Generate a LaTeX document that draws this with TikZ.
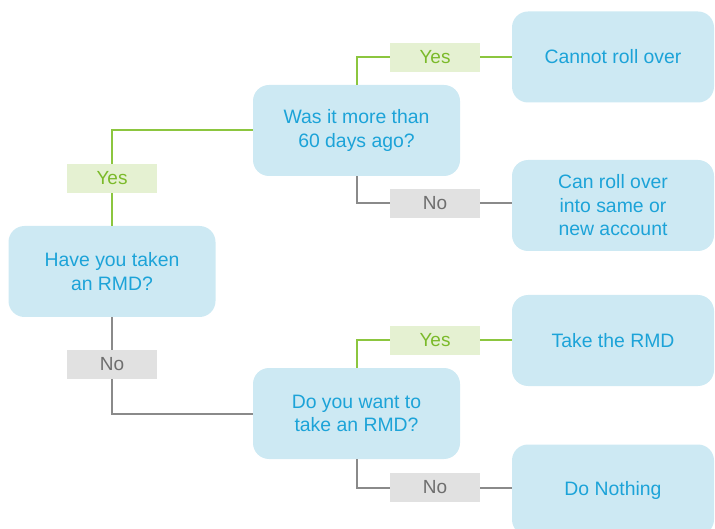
\documentclass[tikz,border=0pt]{standalone}
\usepackage{fontspec}
\setmainfont{Liberation Sans}
\definecolor{boxfill}{HTML}{CDE9F3}
\definecolor{boxtext}{HTML}{1CA3D8}
\definecolor{yesfill}{HTML}{E5F1D2}
\definecolor{yestext}{HTML}{7BBA2A}
\definecolor{yesline}{HTML}{8CC63F}
\definecolor{nofill}{HTML}{E1E1E1}
\definecolor{notext}{HTML}{6E6E6E}
\definecolor{noline}{HTML}{8A8A8A}
\tikzset{
  qbox/.style={fill=boxfill, rounded corners=16pt, minimum width=207pt, minimum height=91pt,
    align=center, text=boxtext, font=\fontsize{19.4}{23.5}\selectfont, inner sep=0pt},
  rbox/.style={qbox, minimum width=202pt},
  yeslab/.style={fill=yesfill, text=yestext, minimum width=90pt, minimum height=29pt,
    inner sep=0pt, font=\fontsize{19}{22}\selectfont},
  nolab/.style={fill=nofill, text=notext, minimum width=90pt, minimum height=29pt,
    inner sep=0pt, font=\fontsize{19}{22}\selectfont},
  yesconn/.style={draw=yesline, line width=2pt},
  noconn/.style={draw=noline, line width=2pt},
}
\begin{document}
\begin{tikzpicture}[x=1pt,y=-1pt]
\useasboundingbox (0,0) rectangle (715,529);
\begin{scope}
\clip (0,0) rectangle (715,529);
% question boxes
\node[qbox] (q1) at (112,271.5) {Have you taken\\an RMD?};
\node[qbox] (q2) at (356.5,130.5) {Was it more than\\60 days ago?};
\node[qbox] (q3) at (356.5,413.5) {Do you want to\\take an RMD?};
% result boxes
\node[rbox] (r1) at (613,57) {Cannot roll over};
\node[rbox] (r2) at (613,205.5) {Can roll over\\into same or\\new account};
\node[rbox] (r3) at (613,340.5) {Take the RMD};
\node[rbox] (r4) at (613,490) {Do Nothing};
% labels
\node[yeslab] (ly1) at (435,57.5) {Yes};
\node[nolab] (ln1) at (435,203.5) {No};
\node[yeslab] (ly2) at (112,178.5) {Yes};
\node[nolab] (ln2) at (112,364.5) {No};
\node[yeslab] (ly3) at (435,340.5) {Yes};
\node[nolab] (ln3) at (435,487.5) {No};
% connectors
\draw[yesconn] (q1.north) -- (ly2.south);
\draw[yesconn] (ly2.north) |- (q2.west);
\draw[yesconn] (q2.north) |- (ly1.west);
\draw[yesconn] (ly1.east) -- (ly1.east -| r1.west);
\draw[noconn] (q2.south) |- (ln1.west);
\draw[noconn] (ln1.east) -- (ln1.east -| r2.west);
\draw[noconn] (q1.south) -- (ln2.north);
\draw[noconn] (ln2.south) |- (q3.west);
\draw[yesconn] (q3.north) |- (ly3.west);
\draw[yesconn] (ly3.east) -- (ly3.east -| r3.west);
\draw[noconn] (q3.south) |- (ln3.west);
\draw[noconn] (ln3.east) -- (ln3.east -| r4.west);
\end{scope}
\end{tikzpicture}
\end{document}
